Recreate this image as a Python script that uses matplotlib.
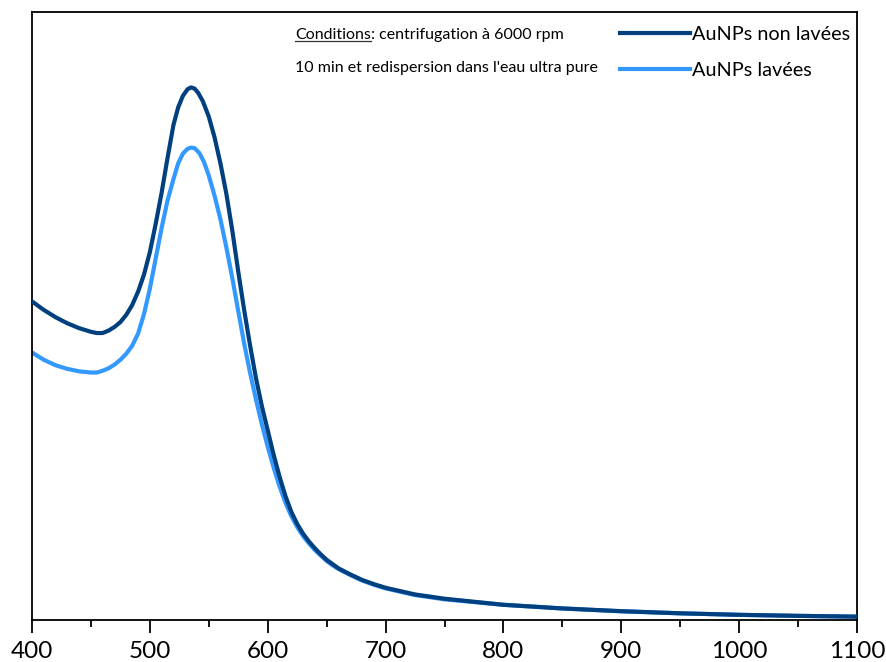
import matplotlib
matplotlib.use("Agg")
import matplotlib.pyplot as plt
from matplotlib.lines import Line2D

plt.rcParams['font.family'] = ['Lato', 'DejaVu Sans']

# Wavelength (nm) and absorbance (a.u., normalised to axis height)
wl_non_lavees = [400, 410, 420, 430, 440, 450, 455, 460, 465, 470, 475, 480, 485, 490, 495,
                 500, 505, 510, 515, 520, 524, 528, 532, 535, 538, 541, 545, 550, 555, 560,
                 565, 570, 575, 580, 585, 590, 595, 600, 605, 610, 615, 620, 625, 630, 635,
                 640, 645, 650, 655, 660, 670, 680, 690, 700, 725, 750, 800, 850, 900, 950,
                 1000, 1050, 1100]
abs_non_lavees = [0.524, 0.510, 0.498, 0.488, 0.480, 0.474, 0.472, 0.472, 0.476, 0.482, 0.490,
                  0.502, 0.518, 0.540, 0.568, 0.605, 0.652, 0.703, 0.760, 0.814, 0.843, 0.862,
                  0.873, 0.876, 0.874, 0.867, 0.853, 0.828, 0.793, 0.750, 0.700, 0.640, 0.573,
                  0.510, 0.452, 0.398, 0.352, 0.312, 0.272, 0.236, 0.204, 0.178, 0.158, 0.142,
                  0.129, 0.118, 0.108, 0.099, 0.092, 0.085, 0.075, 0.066, 0.059, 0.053, 0.042,
                  0.035, 0.025, 0.019, 0.0145, 0.011, 0.0085, 0.0068, 0.0055]

wl_lavees = [400, 410, 420, 430, 440, 450, 455, 460, 465, 470, 475, 480, 485, 490, 495, 500,
             505, 510, 515, 520, 524, 528, 532, 535, 538, 542, 546, 550, 555, 560, 565, 570,
             575, 580, 585, 590, 595, 600, 605, 610, 615, 620, 625, 630, 635, 640, 645, 650,
             655, 660, 670, 680, 690, 700, 725, 750, 800, 850, 900, 950, 1000, 1050, 1100]
abs_lavees = [0.440, 0.428, 0.419, 0.413, 0.409, 0.407, 0.407, 0.410, 0.414, 0.420, 0.428,
              0.438, 0.451, 0.471, 0.503, 0.545, 0.595, 0.645, 0.690, 0.725, 0.751, 0.767,
              0.775, 0.777, 0.776, 0.768, 0.753, 0.731, 0.697, 0.658, 0.612, 0.562, 0.508,
              0.455, 0.407, 0.363, 0.322, 0.285, 0.251, 0.220, 0.193, 0.171, 0.153, 0.138,
              0.126, 0.115, 0.106, 0.097, 0.090, 0.084, 0.074, 0.065, 0.058, 0.052, 0.041,
              0.034, 0.025, 0.019, 0.0143, 0.011, 0.0085, 0.0068, 0.0055]

labels = ["AuNPs non lavées", "AuNPs lavées"]
colors = ["#00407f", "#3399ff"]
x_ticks = [400, 500, 600, 700, 800, 900, 1000, 1100]

W, H = 887, 662
fig = plt.figure(figsize=(W / 100, H / 100), dpi=100)
ax = fig.add_axes([32 / W, (H - 620) / H, (857 - 32) / W, (620 - 12) / H])

ax.plot(wl_lavees, abs_lavees, color=colors[1], lw=3.0, solid_capstyle='round',
        solid_joinstyle='round', zorder=2)
ax.plot(wl_non_lavees, abs_non_lavees, color=colors[0], lw=3.0, solid_capstyle='round',
        solid_joinstyle='round', zorder=3)

ax.set_xlim(400, 1100)
ax.set_ylim(0, 1.0)
ax.set_xticks(x_ticks)
ax.set_xticks(range(450, 1100, 100), minor=True)
ax.set_yticks([])
ax.tick_params(axis='x', which='major', direction='out', length=9, width=1.3,
               labelsize=17.5, pad=6, colors='black')
ax.tick_params(axis='x', which='minor', direction='out', length=5, width=1.3)
for s in ax.spines.values():
    s.set_linewidth(1.3)
    s.set_color('black')

# Legend
handles = [Line2D([0], [0], color=c, lw=3.0) for c in colors]
leg = ax.legend(handles, labels, loc='upper left', bbox_to_anchor=(620 / W, (H - 26) / H),
                bbox_transform=fig.transFigure, frameon=False, fontsize=14.3,
                handlelength=3.5, handletextpad=0.12, labelspacing=0.95, borderpad=0,
                borderaxespad=0)

# Annotation with underlined "Conditions"
fs_ann = 11.5
y1 = (H - 35) / H
t1 = fig.text(295 / W, y1, "Conditions", fontsize=fs_ann, va='center', ha='left')
fig.canvas.draw()
r = fig.canvas.get_renderer()
bb = t1.get_window_extent(r)
fig.text(bb.x1 / W, y1, ": centrifugation à 6000 rpm", fontsize=fs_ann,
         va='center', ha='left')
fig.add_artist(Line2D([bb.x0 / W, bb.x1 / W], [(bb.y0 + 1.5) / H, (bb.y0 + 1.5) / H],
                      transform=fig.transFigure, color='#333333', lw=0.9))
fig.text(295 / W, (H - 68) / H, "10 min et redispersion dans l'eau ultra pure",
         fontsize=fs_ann, va='center', ha='left')

fig.savefig("out.png", dpi=100)
